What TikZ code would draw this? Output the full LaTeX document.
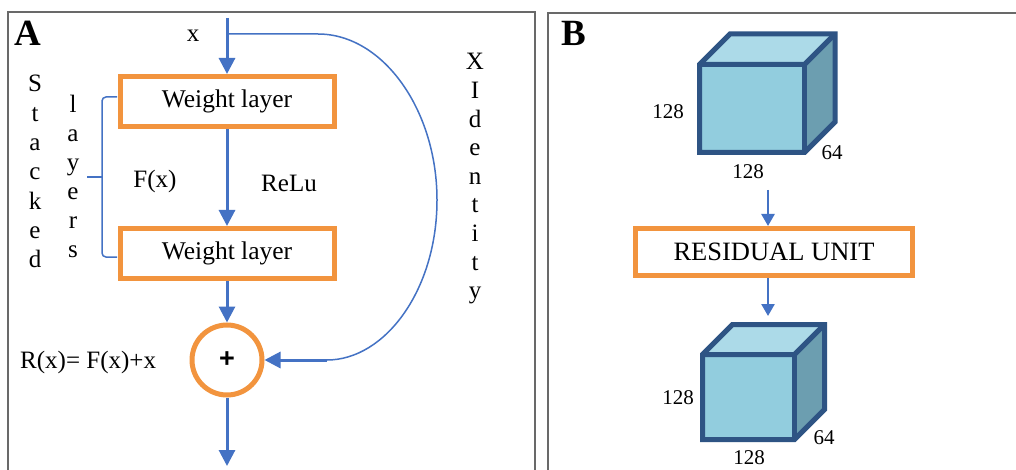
\documentclass[tikz,border=0pt]{standalone}
\usepackage{fontspec}
\setmainfont{Liberation Serif}
\newfontfamily\plusfont{Liberation Sans}
\usetikzlibrary{arrows.meta}

\definecolor{flowblue}{RGB}{68,114,196}
\definecolor{boxorange}{RGB}{242,148,62}
\definecolor{cubeedge}{RGB}{46,84,132}
\definecolor{cubefront}{RGB}{146,205,222}
\definecolor{cubetop}{RGB}{172,218,232}
\definecolor{cubeside}{RGB}{108,158,176}
\definecolor{framegray}{RGB}{105,105,105}

% a box in perspective: front top-left corner (#1,#2), width #3, height #4, depth #5
\newcommand\cubeshape[5]{%
  \fill[cubefront] (#1,#2) rectangle ++(#3,#4);
  \fill[cubetop] (#1,#2) -- ++(#5,-#5) -- ++(#3,0) -- ++(-#5,#5) -- cycle;
  \fill[cubeside] ({#1+#3},#2) -- ++(#5,-#5) -- ++(0,#4) -- ++(-#5,#5) -- cycle;
  \draw[cubeline] (#1,{#2+#4}) -- (#1,#2) -- ++(#5,-#5) -- ++(#3,0) -- ++(0,#4)
        -- ++(-#5,#5) -- cycle;
  \draw[cubeline] (#1,#2) -- ++(#3,0) -- ++(#5,-#5);
  \draw[cubeline] ({#1+#3},#2) -- ++(0,#4);
}

\begin{document}
\begin{tikzpicture}[x=1pt,y=-1pt,
  lbl/.style={font=\fontsize{25}{30}\selectfont, inner sep=0pt},
  numlbl/.style={font=\fontsize{21}{25}\selectfont, inner sep=0pt},
  panellbl/.style={font=\fontsize{37}{44}\selectfont\bfseries, inner sep=0pt, anchor=base west},
  layerbox/.style={draw=boxorange, line width=5pt, fill=white, minimum width=214pt,
    minimum height=50pt, inner sep=0pt, font=\fontsize{25.5}{30}\selectfont},
  unitbox/.style={draw=boxorange, line width=5pt, fill=white, minimum width=277pt,
    minimum height=47pt, inner sep=0pt, font=\fontsize{26.5}{31}\selectfont},
  sumnode/.style={circle, draw=boxorange, line width=5pt, fill=white, minimum size=70pt,
    inner sep=0pt, font=\plusfont\bfseries\fontsize{27}{30}\selectfont},
  flow/.style={draw=flowblue, line width=3pt, -{Triangle[width=16pt,length=16pt]}},
  flowsmall/.style={draw=flowblue, line width=2.5pt, -{Triangle[width=13pt,length=12pt]}},
  idline/.style={draw=flowblue, line width=1.5pt},
  cubeline/.style={draw=cubeedge, line width=5pt, line join=miter},
  frame/.style={draw=framegray, line width=1.5pt}]

\useasboundingbox (0,0) rectangle (1016,470);
\fill[white] (0,0) rectangle (1016,470);

% panel frames
\draw[frame] (8,472) -- (8,12) -- (535,12) -- (535,472);
\draw[frame] (548,472) -- (548,13) -- (1018,13);

% ---------- panel A: residual block ----------
\node[panellbl] (pa) at (14,46) {A};

\node[layerbox] (w1) at (227,101.5) {Weight layer};
\node[layerbox] (w2) at (227,253.5) {Weight layer};
\node[sumnode] (sum) at (227,360) {+};

\coordinate (in) at (227,18);
\coordinate (split) at (227,34);
\coordinate (ret) at (327,360);
\coordinate (out) at (227,466);

\draw[flow] (in) -- (w1);
\draw[flow] (w1) -- (w2);
\draw[flow] (w2) -- (sum);
\draw[flow] (sum) -- (out);

% identity shortcut
\draw[idline] (split) -- (318,34) .. controls (383,34) and (437,110) .. (437,200)
      .. controls (437,290) and (385,360) .. (ret);
\draw[flow] (ret) -- (sum.east);

% brace grouping the stacked layers
\draw[idline, rounded corners=4pt] (117,97) -- (102,97) -- (102,257) -- (117,257);
\draw[idline] (102,177) -- (87,177);

\node[lbl, anchor=base] (xin) at (193,42) {x};
\node[lbl, anchor=base] (fx) at (155,188) {F(x)};
\node[lbl, anchor=base] (relu) at (289,192) {ReLu};
\node[lbl, anchor=base west] (rx) at (20,368) {R(x)= F(x)+x};

\foreach \ch [count=\i from 0] in {S,t,a,c,k,e,d}
  \node[lbl, anchor=base] (stk\i) at (35,{92+29.3*\i}) {\ch};
\foreach \ch [count=\i from 0] in {l,a,y,e,r,s}
  \node[lbl, anchor=base] (lay\i) at (73,{113+29*\i}) {\ch};
\foreach \ch [count=\i from 0] in {X,I,d,e,n,t,i,t,y}
  \node[lbl, anchor=base] (idn\i) at (475,{70+28.6*\i}) {\ch};

% ---------- panel B: residual unit on a feature volume ----------
\node[panellbl] (pb) at (561,46) {B};

\cubeshape{699.5}{64.5}{105}{88}{30.5}
\node[numlbl] (h1) at (668,112) {128};
\node[numlbl] (d1) at (832,153) {64};
\node[numlbl] (w1n) at (748,172) {128};

\node[unitbox] (ru) at (774,252) {RESIDUAL UNIT};

\cubeshape{702.5}{354.5}{92}{85}{30}
\node[numlbl] (h2) at (678,398) {128};
\node[numlbl] (d2) at (824,438) {64};
\node[numlbl] (w2n) at (749,458) {128};

\coordinate (c1b) at (768,190);
\coordinate (c2t) at (768,316);
\draw[flowsmall] (c1b) -- (c1b |- ru.north);
\draw[flowsmall] (ru.south -| c2t) -- (c2t);

\end{tikzpicture}
\end{document}
